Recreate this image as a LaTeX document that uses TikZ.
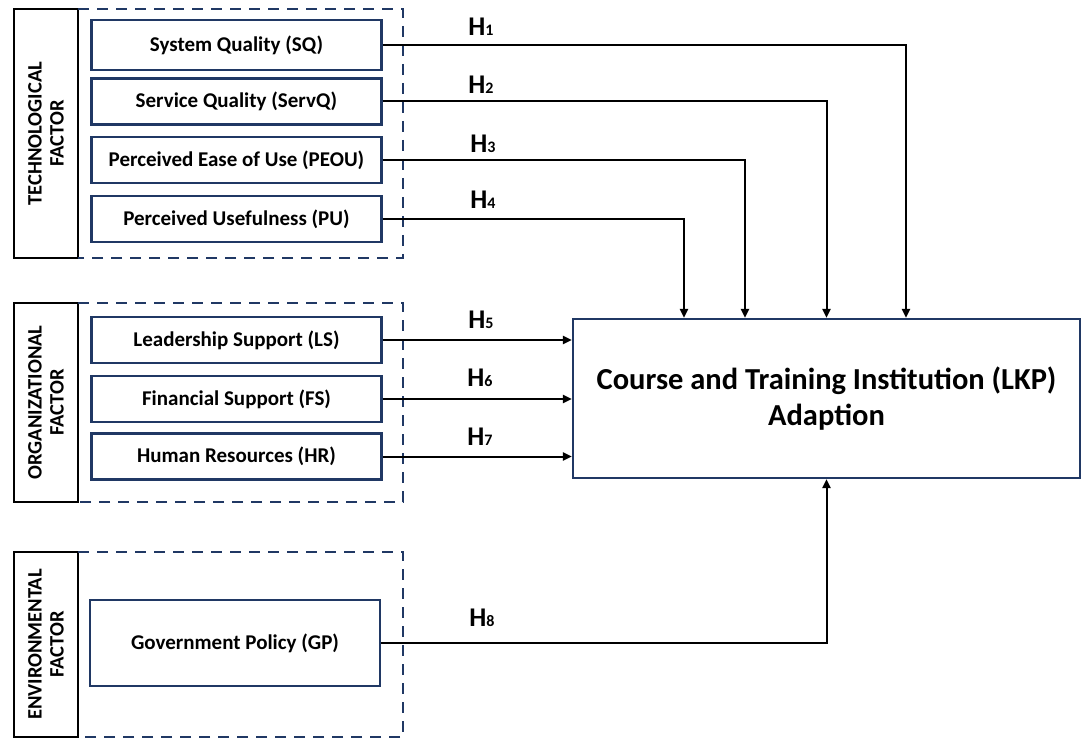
\documentclass[tikz,border=0pt]{standalone}
\usepackage{fontspec}
\setmainfont{Carlito}
\usetikzlibrary{arrows.meta, positioning}
\definecolor{navy}{RGB}{32,56,100}

\newcommand{\hip}[1]{H{\fontsize{16}{16}\selectfont #1}}

\begin{document}
\begin{tikzpicture}[x=1pt, y=-1pt,
    font=\bfseries\fontsize{21}{24}\selectfont,
    kotak/.style={draw=navy, line width=2.2pt, minimum width=290pt, minimum height=46pt,
                  inner sep=0pt, align=center},
    faktor/.style={draw, line width=2.4pt, minimum height=64pt, inner sep=0pt, align=center,
                   rotate=90, font=\bfseries\fontsize{20.5}{22}\selectfont},
    kelompok/.style={draw=navy, line width=2pt, dash pattern=on 11pt off 8pt},
    hlabel/.style={font=\bfseries\fontsize{27}{27}\selectfont, inner sep=0pt},
    panah/.style={-{Triangle[length=9pt, width=8pt]}, line width=2pt}
  ]
    \useasboundingbox (0,0) rectangle (1085,738);

    % factor groups
    \node[faktor, minimum width=249pt] (tech) at (46,133.5) {TECHNOLOGICAL\\FACTOR};
    \node[faktor, minimum width=199pt] (org) at (46,402.5) {ORGANIZATIONAL\\FACTOR};
    \node[faktor, minimum width=185pt] (env) at (46,644.5) {ENVIRONMENTAL\\FACTOR};
    \draw[kelompok] (78,9) -- (403,9) -- (403,258) -- (78,258);
    \draw[kelompok] (78,303) -- (403,303) -- (403,502) -- (78,502);
    \draw[kelompok] (78,552) -- (403,552) -- (403,737) -- (78,737);

    % variables
    \node[kotak, minimum height=50pt] (sq) at (236.5,45) {System Quality (SQ)};
    \node[kotak] (servq) at (236.5,101.5) {Service Quality (ServQ)};
    \node[kotak] (peou) at (236.5,160) {Perceived Ease of Use (PEOU)};
    \node[kotak] (pu) at (236.5,219) {Perceived Usefulness (PU)};
    \node[kotak] (ls) at (236.5,340) {Leadership Support (LS)};
    \node[kotak] (fs) at (236.5,399) {Financial Support (FS)};
    \node[kotak] (hr) at (236.5,456.5) {Human Resources (HR)};
    \node[kotak, minimum height=86pt] (gp) at (235,643) {Government Policy (GP)};

    \node[kotak, minimum width=507pt, minimum height=159pt,
          font=\bfseries\fontsize{30.5}{36}\selectfont] (lkp) at (826.5,398.5)
      {Course and Training Institution (LKP)\\Adaption};

    % hypotheses
    \draw[panah] (sq.east) -| ([xshift=79.5pt]lkp.north);
    \draw[panah] (servq.east) -| (lkp.north);
    \draw[panah] (peou.east) -| ([xshift=-81.5pt]lkp.north);
    \draw[panah] (pu.east) -| ([xshift=-142.5pt]lkp.north);
    \draw[panah] (ls.east) -- (ls.east -| lkp.west);
    \draw[panah] (fs.east) -- (fs.east -| lkp.west);
    \draw[panah] (hr.east) -- (hr.east -| lkp.west);
    \draw[panah] (gp.east) -| (lkp.south);

    \node[hlabel] (h1) at (481,27) {\hip{1}};
    \node[hlabel] (h2) at (481,85) {\hip{2}};
    \node[hlabel] (h3) at (483,144) {\hip{3}};
    \node[hlabel] (h4) at (483,200) {\hip{4}};
    \node[hlabel] (h5) at (481,320) {\hip{5}};
    \node[hlabel] (h6) at (480,378) {\hip{6}};
    \node[hlabel] (h7) at (480,437) {\hip{7}};
    \node[hlabel] (h8) at (482,618) {\hip{8}};
  \end{tikzpicture}
\end{document}
